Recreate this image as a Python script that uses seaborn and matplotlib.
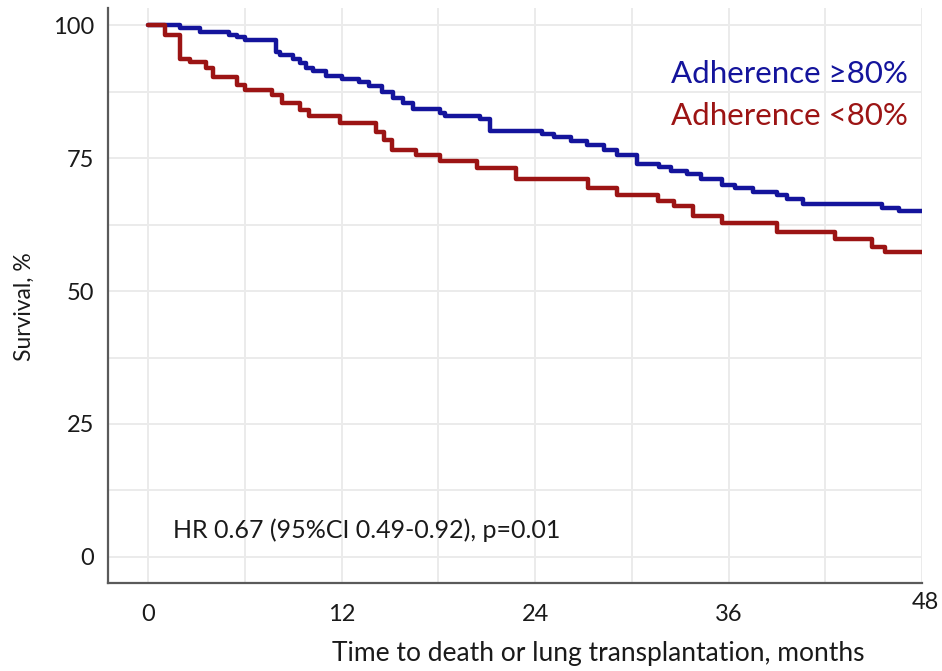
import numpy as np
import pandas as pd
import matplotlib
matplotlib.use("Agg")
import matplotlib.pyplot as plt
import matplotlib.transforms as mtransforms
import seaborn as sns

# Kaplan-Meier steps (months, survival %)
months_hi = [0, 2.0, 3.2, 5.0, 5.5, 6.0, 7.9, 8.2, 9.0, 9.4, 9.8, 10.2, 11.0, 12.0,
             13.1, 13.7, 14.5, 15.2, 15.8, 16.4, 18.1, 18.4, 20.6, 21.2, 24.4, 25.2,
             26.2, 27.2, 28.3, 29.1, 30.3, 31.7, 32.4, 33.4, 34.3, 35.6, 36.4, 37.5,
             39.0, 39.6, 40.6, 45.5, 46.6, 48.0]
surv_hi = [100, 99.5, 98.7, 98.1, 97.7, 97.2, 95.0, 94.4, 93.6, 92.8, 91.9, 91.4, 90.4,
           89.8, 89.3, 88.6, 87.5, 86.2, 85.3, 84.2, 83.5, 82.9, 82.3, 80.1, 79.5, 78.9,
           78.2, 77.4, 76.6, 75.6, 73.9, 73.3, 72.6, 72.0, 71.0, 70.0, 69.3, 68.7, 68.0,
           67.3, 66.4, 65.7, 65.1, 65.1]

months_lo = [0, 1.05, 2.0, 2.6, 3.6, 4.0, 5.5, 6.0, 7.7, 8.3, 9.4, 10.0, 11.9, 14.1,
             14.6, 15.1, 16.6, 18.1, 20.4, 22.8, 27.3, 29.1, 31.6, 32.6, 33.8, 35.6,
             39.0, 42.6, 44.9, 45.7, 48.0]
surv_lo = [100, 98.1, 93.7, 93.1, 91.9, 90.2, 88.7, 87.8, 86.8, 85.3, 84.0, 82.9, 81.6,
           79.9, 78.4, 76.6, 75.6, 74.5, 73.1, 71.0, 69.3, 68.0, 67.0, 66.0, 64.1, 62.7,
           61.1, 59.7, 58.2, 57.3, 57.3]

groups = ["Adherence \u226580%", "Adherence <80%"]
x_ticks = [0, 12, 24, 36, 48]
y_ticks = [0, 25, 50, 75, 100]
note = "HR 0.67 (95%CI 0.49-0.92), p=0.01"

blue = "#14149c"
red = "#9c1414"

df = pd.concat([
    pd.DataFrame({"month": months_hi, "surv": surv_hi, "group": groups[0]}),
    pd.DataFrame({"month": months_lo, "surv": surv_lo, "group": groups[1]}),
])

sns.set_theme(style="whitegrid")
plt.rcParams["font.family"] = ["Lato", "DejaVu Sans"]

fig = plt.figure(figsize=(9.42, 6.71), dpi=100)
ax = fig.add_axes([0.1146, 0.1311, 0.8642, 0.8569])

sns.lineplot(data=df, x="month", y="surv", hue="group", hue_order=groups,
             palette=[blue, red], drawstyle="steps-post", linewidth=3.2,
             errorbar=None, legend=False, ax=ax)

ax.set_xlim(-2.5, 48)
ax.set_ylim(-4.9, 103.2)
ax.set_xticks(x_ticks)
ax.set_yticks(y_ticks)
ax.set_xticks(np.arange(6, 48, 12), minor=True)
ax.set_yticks(np.arange(12.5, 100, 25), minor=True)

ax.grid(True, which="both", color="#ebebeb", linewidth=1.4)
ax.set_axisbelow(True)
ax.set_facecolor("white")

for side in ["top", "right"]:
    ax.spines[side].set_visible(False)
for side in ["left", "bottom"]:
    ax.spines[side].set_color("#5a5a5a")
    ax.spines[side].set_linewidth(1.6)

ax.tick_params(axis="both", which="major", length=6, width=1.6, color="#5a5a5a",
               labelsize=17, labelcolor="#1a1a1a")
ax.tick_params(axis="x", which="major", pad=9)
ax.tick_params(axis="y", which="major", pad=4)
ax.tick_params(axis="both", which="minor", length=0)

# the 48 label sits a little higher in the original
last = ax.get_xticklabels()[-1]
last.set_transform(last.get_transform() + mtransforms.ScaledTranslation(0.03, 0.12, fig.dpi_scale_trans))

ax.set_xlabel("Time to death or lung transplantation, months", fontsize=19, color="#1a1a1a")
ax.xaxis.set_label_coords(0.602, -0.1)
ax.set_ylabel("Survival, %", fontsize=16.5, color="#1a1a1a")
ax.yaxis.set_label_coords(-0.09, 0.48)

ax.text(0.983, 0.885, groups[0], transform=ax.transAxes, ha="right", va="center",
        fontsize=22.5, color=blue)
ax.text(0.983, 0.812, groups[1], transform=ax.transAxes, ha="right", va="center",
        fontsize=22.5, color=red)
ax.text(0.0799, 0.0917, note, transform=ax.transAxes, ha="left", va="center",
        fontsize=18, color="#1a1a1a")

fig.savefig("out.png", dpi=100)
